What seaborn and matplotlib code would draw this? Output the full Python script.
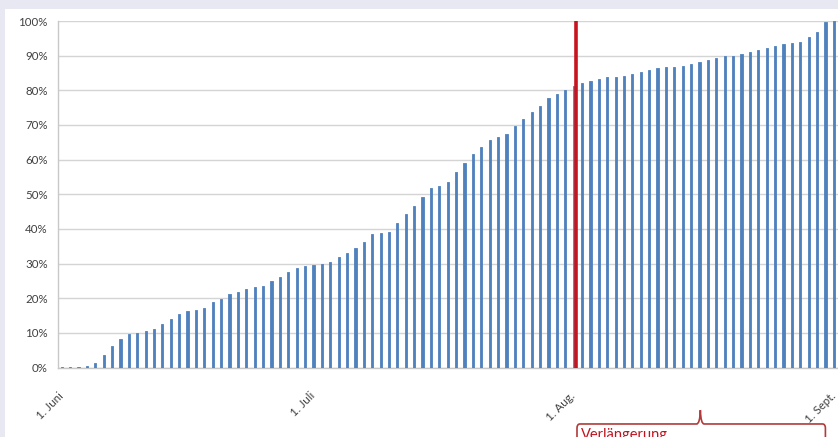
import numpy as np
import pandas as pd
import matplotlib
matplotlib.use("Agg")
import matplotlib.pyplot as plt
import matplotlib.transforms as mtransforms
import seaborn as sns
from matplotlib.patches import Rectangle, PathPatch
from matplotlib.path import Path

# Daily categories, 1 June to 1 September
days = [d.strftime("%d.%m.") for d in pd.date_range("2013-06-01", "2013-09-01", freq="D")]

# Cumulative share per day (%)
share = [
    0.2, 0.2, 0.2, 0.3,
    1.2, 3.6, 6.2, 8.2, 9.6, 10.1, 10.4, 11.0, 12.6, 14.0, 15.4, 16.3, 16.6, 17.3,
    18.8, 19.9, 21.1, 21.7, 22.7, 23.1, 23.4, 24.9, 26.1, 27.5, 28.8,
    29.3, 29.6, 30.0, 30.5, 31.8, 33.0, 34.4, 36.3, 38.4, 38.7, 39.2, 41.8, 44.3, 46.5,
    49.2, 51.8, 52.3, 53.5, 56.3, 58.9, 61.5, 63.7, 65.8, 66.5, 67.5, 69.7, 71.8,
    73.7, 75.6, 77.9, 78.8, 80.2, 81.2,
    82.1, 82.8, 83.4, 83.8, 83.8, 84.0, 84.7, 85.4, 85.8, 86.3, 86.6, 86.8, 87.0,
    87.5, 88.1, 88.7, 89.2, 89.8, 90.0, 90.4, 91.0, 91.6, 92.2, 92.9, 93.5, 93.6,
    94.0, 95.3, 96.9, 99.8, 100.0,
]

month_ticks = [0, 30, 61, 92]
month_labels = ["1. Juni", "1. Juli", "1. Aug.", "1. Sept."]
y_ticks = list(range(0, 101, 10))

marker_day = 61          # start of the extension (1 August)
extension_label = "Verlängerung"

sns.set_style("white")
plt.rcParams["font.family"] = ["Lato", "DejaVu Sans"]

W, H = 838, 437
fig = plt.figure(figsize=(W / 100, H / 100), dpi=100)
fig.patch.set_facecolor("#E8E8F3")
fig.add_artist(Rectangle((5 / W, 0), 1, (H - 9) / H, transform=fig.transFigure,
                         facecolor="white", edgecolor="none", zorder=-10))

ax = fig.add_axes([57.5 / W, (H - 367.5) / H, (W - 57.5) / W, 346.5 / H])
ax.set_facecolor("white")

bar_color = "#4F81BD"
df = pd.DataFrame({"day": days, "share": share})
sns.barplot(data=df, x="day", y="share", color=bar_color, saturation=1,
            width=0.26, ax=ax, zorder=3, edgecolor=bar_color, linewidth=0.6)

ax.set_xlim(-0.5, len(days) - 0.5)
ax.set_ylim(0, 100)
ax.set_yticks(y_ticks)
ax.set_yticklabels([f"{v}%" for v in y_ticks])
ax.yaxis.grid(True, color="#D4D4D4", linewidth=1.0, zorder=0)
ax.set_axisbelow(True)

ax.set_xticks(month_ticks)
ax.set_xticklabels(month_labels, rotation=45, ha="right", va="center",
                   rotation_mode="anchor")
shift = mtransforms.ScaledTranslation(-4 / 100, 0, fig.dpi_scale_trans)
for lbl in ax.get_xticklabels():
    lbl.set_transform(lbl.get_transform() + shift)
ax.set_xticks(np.arange(-0.5, len(days), 1.0), minor=True)
ax.tick_params(axis="x", which="major", length=0, pad=19, labelsize=8.3,
               colors="#404040")
ax.tick_params(axis="x", which="minor", length=3, width=0.8, color="#C8C8C8",
               direction="out")
ax.tick_params(axis="y", length=4, width=0.8, color="#C8C8C8", pad=3,
               labelsize=8.3, colors="#404040")

ax.set_xlabel("")
ax.set_ylabel("")
for side in ["top", "right"]:
    ax.spines[side].set_visible(False)
for side in ["left", "bottom"]:
    ax.spines[side].set_color("#C8C8C8")
    ax.spines[side].set_linewidth(1.0)

# Red marker at the start of the extension
ax.axvline(marker_day + 0.25, color="#C8141E", linewidth=2.6, zorder=4)

# Callout with a pointer marking the extension period
trans = ax.get_xaxis_transform()
x0, x1, xt = 61.4, 91.0, 76.1
ytop, ytip, ybot = -0.163, -0.123, -0.30
rx, ry = 0.35, 0.012
verts = [(x0, ybot), (x0, ytop - ry), (x0, ytop), (x0 + rx, ytop),
         (xt - 0.45, ytop), (xt - 0.05, ytop), (xt, ytip),
         (xt + 0.05, ytop), (xt + 0.45, ytop),
         (x1 - rx, ytop), (x1, ytop), (x1, ytop - ry), (x1, ybot)]
codes = [Path.MOVETO, Path.LINETO, Path.CURVE3, Path.CURVE3,
         Path.LINETO, Path.CURVE3, Path.CURVE3, Path.CURVE3, Path.CURVE3,
         Path.LINETO, Path.CURVE3, Path.CURVE3, Path.LINETO]
ax.add_patch(PathPatch(Path(verts, codes), transform=trans, facecolor="none",
                       edgecolor="#B23A3A", linewidth=1.2, clip_on=False))
ax.text(x0 + 0.5, -0.176, extension_label, transform=trans, ha="left", va="top",
        color="#C0141E", fontsize=10.5, clip_on=False)

fig.savefig("out.png", dpi=100, facecolor=fig.get_facecolor())
